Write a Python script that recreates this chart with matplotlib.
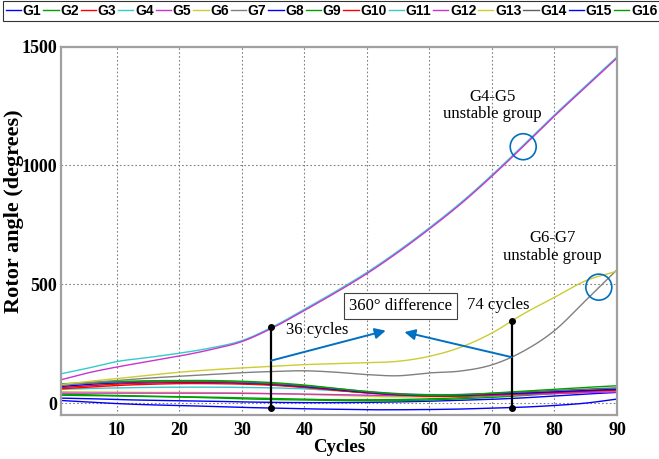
import matplotlib
matplotlib.use("Agg")
import matplotlib.pyplot as plt
import numpy as np
from matplotlib.patches import Ellipse
from matplotlib.lines import Line2D

# ---------------- data ----------------
names = ["G1", "G2", "G3", "G4", "G5", "G6", "G7", "G8",
         "G9", "G10", "G11", "G12", "G13", "G14", "G15", "G16"]
colors = ["#0000FF", "#00A000", "#FF0000", "#33CCCC", "#CC33CC", "#CCCC33", "#808080", "#0000FF",
          "#00A000", "#FF0000", "#33CCCC", "#CC33CC", "#CCCC33", "#606060", "#0000FF", "#00A000"]

cyc = [1, 5, 10, 15, 20, 25, 30, 35, 40, 45, 50, 55, 60, 65, 70, 75, 80, 85, 90]

g1  = [70, 78, 85, 89, 90, 89, 86, 80, 70, 58, 45, 36, 32, 33, 38, 42, 48, 53, 58]
g2  = [81, 86, 91, 94, 95, 95, 92, 86, 76, 62, 48, 38, 33, 35, 42, 50, 58, 66, 73]
g3  = [65, 72, 80, 84, 86, 86, 83, 77, 67, 55, 43, 35, 30, 31, 36, 41, 47, 52, 56]
g4  = [123, 145, 175, 192, 210, 232, 263, 322, 395, 470, 550, 640, 738, 843, 960, 1085, 1213, 1335, 1457]
g5  = [98, 125, 152, 175, 198, 225, 259, 318, 390, 465, 545, 635, 733, 838, 955, 1080, 1208, 1330, 1452]
g6  = [78, 90, 103, 117, 130, 140, 148, 155, 162, 166, 170, 176, 197, 235, 295, 375, 445, 515, 555]
g7  = [75, 85, 95, 105, 113, 120, 128, 133, 136, 130, 120, 115, 127, 135, 161, 218, 305, 432, 561]
g8  = [21, 19, 15, 12, 10, 8, 5, 3, 2, 2, 3, 5, 8, 12, 16, 22, 30, 38, 45]
g9  = [33, 32, 30, 28, 26, 22, 18, 15, 13, 11, 10, 10, 13, 18, 24, 32, 40, 46, 52]
g10 = [60, 66, 74, 79, 82, 82, 80, 75, 66, 54, 43, 35, 30, 30, 35, 40, 45, 50, 54]
g11 = [58, 61, 64, 66, 67, 67, 66, 64, 60, 52, 44, 38, 36, 36, 39, 43, 48, 52, 56]
g12 = [42, 42, 42, 42, 42, 42, 41, 40, 38, 36, 34, 31, 29, 29, 32, 36, 40, 44, 47]
g13 = [48, 47, 46, 45, 45, 44, 43, 40, 36, 32, 28, 26, 26, 28, 32, 36, 41, 46, 50]
g14 = [76, 83, 88, 91, 92, 91, 88, 82, 73, 61, 49, 40, 35, 36, 41, 47, 53, 59, 64]
g15 = [11, 5, -2, -7, -10, -14, -18, -21, -24, -26, -28, -28, -27, -25, -21, -17, -10, 0, 17]
g16 = [38, 35, 32, 29, 27, 25, 22, 19, 16, 14, 14, 15, 18, 23, 30, 37, 45, 53, 60]

series = [g1, g2, g3, g4, g5, g6, g7, g8, g9, g10, g11, g12, g13, g14, g15, g16]

xticks = [10, 20, 30, 40, 50, 60, 70, 80, 90]
yticks = [0, 500, 1000, 1500]

# ---------------- figure ----------------
fig = plt.figure(figsize=(6.59, 4.59), dpi=100)
ax = fig.add_axes([0.0921, 0.0959, 0.8441, 0.8024])

serif = "Liberation Serif"
sans = "Liberation Sans"

xs = np.linspace(cyc[0], cyc[-1], 400)
def smooth(xp, yp, xn):
    # cubic Hermite interpolation through the read points
    xp = np.asarray(xp, float); yp = np.asarray(yp, float)
    out = np.empty_like(xn)
    m = np.gradient(yp, xp)
    for i, x in enumerate(xn):
        k = min(np.searchsorted(xp, x, side="right") - 1, len(xp) - 2)
        h = xp[k + 1] - xp[k]
        t = (x - xp[k]) / h
        h00 = 2 * t**3 - 3 * t**2 + 1
        h10 = t**3 - 2 * t**2 + t
        h01 = -2 * t**3 + 3 * t**2
        h11 = t**3 - t**2
        out[i] = h00 * yp[k] + h10 * h * m[k] + h01 * yp[k + 1] + h11 * h * m[k + 1]
    return out

order = [14, 7, 15, 8, 12, 11, 10, 9, 2, 0, 13, 1, 6, 5, 3, 4]
for i in order:
    ax.plot(xs, smooth(cyc, series[i], xs), color=colors[i], lw=1.0, zorder=2)

ax.set_xlim(1, 90)
ax.set_ylim(-50, 1500)
ax.set_xticks(xticks)
ax.set_yticks(yticks)
ax.tick_params(axis="x", length=0, pad=5)
ax.tick_params(axis="y", length=0, pad=2.5)
for lab in ax.get_xticklabels() + ax.get_yticklabels():
    lab.set_fontfamily(serif)
    lab.set_fontweight("bold")
    lab.set_fontsize(13)
ax.grid(True, color="#808080", linestyle=(0, (1.5, 2)), linewidth=0.8)
for s in ax.spines.values():
    s.set_color("#A0A0A0")
    s.set_linewidth(1.6)

ax.set_xlabel("Cycles", fontfamily=serif, fontweight="bold", fontsize=13.5, labelpad=0)
ax.set_ylabel("Rotor angle (degrees)", fontfamily=serif, fontweight="bold", fontsize=16)
ax.yaxis.set_label_coords(-0.066, 0.552)

# ---------------- annotations ----------------
ax.plot([34.7, 34.7], [-21, 322], color="black", lw=1.6, marker="o", ms=4, zorder=5)
ax.plot([73.2, 73.2], [-21, 347], color="black", lw=1.6, marker="o", ms=4, zorder=5)

arrow_c = "#0070C0"
ax.annotate("", xy=(53.0, 305), xytext=(34.7, 179),
            arrowprops=dict(arrowstyle="-|>", color=arrow_c, lw=1.4, mutation_scale=16, shrinkA=0, shrinkB=0), zorder=6)
ax.annotate("", xy=(56.0, 299), xytext=(73.2, 193),
            arrowprops=dict(arrowstyle="-|>", color=arrow_c, lw=1.4, mutation_scale=16, shrinkA=0, shrinkB=0), zorder=6)

ax.text(55.4, 407, "360° difference", fontfamily=serif, fontsize=12, ha="center", va="center",
        bbox=dict(boxstyle="square,pad=0.3", fc="white", ec="#404040", lw=0.8), zorder=7)
ax.text(37.1, 308, "36 cycles", fontfamily=serif, fontsize=12, ha="left", va="center", zorder=7)
ax.text(66.0, 414, "74 cycles", fontfamily=serif, fontsize=12, ha="left", va="center", zorder=7)

ax.text(70.1, 1251, "G4-G5\nunstable group", fontfamily=serif, fontsize=12, ha="center", va="center",
        linespacing=1.1, zorder=7)
ax.text(79.7, 657, "G6-G7\nunstable group", fontfamily=serif, fontsize=12, ha="center", va="center",
        linespacing=1.1, zorder=7)

ax.add_patch(Ellipse((75.0, 1079), width=26 / 6.26, height=26 / 0.2377, fill=False,
                     edgecolor=arrow_c, lw=1.2, zorder=6))
ax.add_patch(Ellipse((87.1, 488), width=26 / 6.26, height=26 / 0.2377, fill=False,
                     edgecolor=arrow_c, lw=1.2, zorder=6))

# ---------------- legend ----------------
handles = [Line2D([], [], color=colors[i], lw=1.0) for i in range(16)]
leg = fig.legend(handles, names, loc="upper left", bbox_to_anchor=(3 / 659, 1 - 1 / 459),
                 ncol=16, frameon=True, fancybox=False, edgecolor="black",
                 prop=dict(family=sans, weight="bold", size=10),
                 handlelength=1.1, handletextpad=0.12, columnspacing=0.14,
                 borderpad=0.2, borderaxespad=0)
leg.get_frame().set_linewidth(0.8)

fig.savefig("out.png", dpi=100)
